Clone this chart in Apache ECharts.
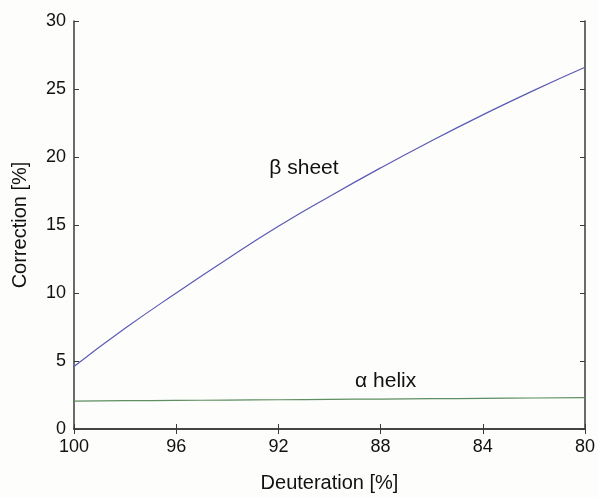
<!DOCTYPE html>
<html>
<head>
<meta charset="utf-8">
<script src="https://cdn.jsdelivr.net/npm/echarts@6/dist/echarts.min.js"></script>
<style>
  html, body { margin: 0; padding: 0; background: #fdfdfb; }
  #chart { width: 598px; height: 498px; }
</style>
</head>
<body>
<div id="chart"></div>
<script>
// deuteration [%] and correction [%]
const deuteration = [100, 98, 96, 94, 92, 90, 88, 86, 84, 82, 80];
const betaSheet = [4.6, 7.4, 10.0, 12.5, 14.9, 17.1, 19.2, 21.2, 23.1, 24.9, 26.6];
const alphaHelix = [2.05, 2.08, 2.1, 2.13, 2.15, 2.18, 2.2, 2.23, 2.25, 2.28, 2.3];
const yTicks = [0, 5, 10, 15, 20, 25, 30];

const chart = echarts.init(document.getElementById('chart'));

const axisColor = '#3a3a3a';
const font = 'Liberation Sans, Arial, sans-serif';

function pairs(ys) {
  return deuteration.map((d, i) => [d, ys[i]]);
}

const mirrorAxis = {
  axisLine: { show: true, lineStyle: { color: axisColor, width: 1.5 } },
  axisTick: { show: true, inside: true, length: 5, lineStyle: { color: axisColor } },
  axisLabel: { show: false },
  splitLine: { show: false }
};

const option = {
  backgroundColor: '#fdfdfb',
  animation: false,
  grid: { left: 74, right: 5, top: 21, bottom: 67 },
  xAxis: [
    {
      type: 'value', min: 80, max: 100, interval: 4, inverse: true,
      name: 'Deuteration [%]', nameLocation: 'middle', nameGap: 44,
      nameTextStyle: { fontSize: 20, color: '#111', fontFamily: font },
      axisLine: { lineStyle: { color: axisColor, width: 1.5 } },
      axisTick: { inside: true, length: 5, lineStyle: { color: axisColor } },
      axisLabel: { fontSize: 18, color: '#111', fontFamily: font, margin: 9 },
      splitLine: { show: false }
    },
    Object.assign({ type: 'value', min: 80, max: 100, interval: 4, inverse: true, position: 'top' }, mirrorAxis)
  ],
  yAxis: [
    {
      type: 'value', min: yTicks[0], max: yTicks[yTicks.length - 1], interval: 5,
      name: 'Correction [%]', nameLocation: 'middle', nameGap: 44,
      nameTextStyle: { fontSize: 20, color: '#111', fontFamily: font },
      axisLine: { show: true, lineStyle: { color: axisColor, width: 1.5 } },
      axisTick: { show: true, inside: true, length: 5, lineStyle: { color: axisColor } },
      axisLabel: { fontSize: 18, color: '#111', fontFamily: font, margin: 8 },
      splitLine: { show: false }
    },
    Object.assign({ type: 'value', min: 0, max: 30, interval: 5, position: 'right' }, mirrorAxis)
  ],
  series: [
    {
      name: 'β sheet', type: 'line', smooth: true, symbol: 'none',
      data: pairs(betaSheet),
      lineStyle: { color: '#5a5ab4', width: 1.2 },
      markPoint: {
        symbol: 'circle', symbolSize: 0,
        label: { show: true, formatter: 'β sheet', fontSize: 21, color: '#111', fontFamily: font },
        data: [{ coord: [91.0, 19.2] }]
      }
    },
    {
      name: 'α helix', type: 'line', smooth: true, symbol: 'none',
      data: pairs(alphaHelix),
      lineStyle: { color: '#5e8e62', width: 1.2 },
      markPoint: {
        symbol: 'circle', symbolSize: 0,
        label: { show: true, formatter: 'α helix', fontSize: 21, color: '#111', fontFamily: font },
        data: [{ coord: [87.8, 3.5] }]
      }
    }
  ]
};

chart.setOption(option);
</script>
</body>
</html>
